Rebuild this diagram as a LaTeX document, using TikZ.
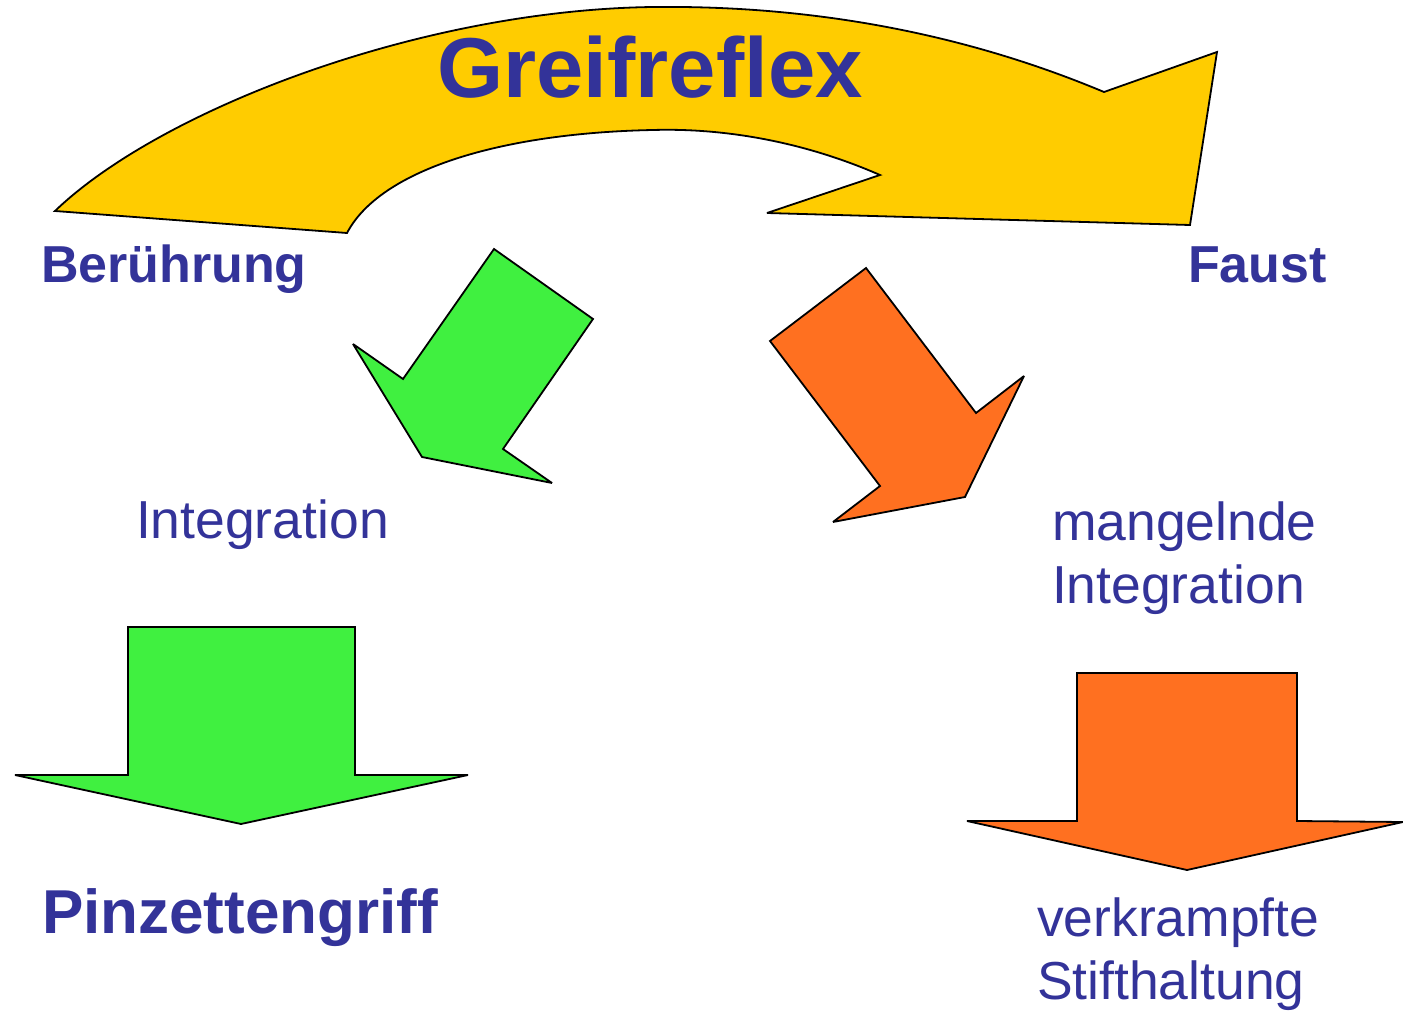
\documentclass[tikz,border=0pt]{standalone}
\usepackage{fontspec}
\setmainfont{Liberation Sans}
\definecolor{txtblue}{HTML}{333399}
\definecolor{gold}{HTML}{FFCC00}
\definecolor{lgreen}{HTML}{40F040}
\definecolor{lorange}{HTML}{FF7020}
\tikzset{
  shapeline/.style={draw=black,line width=1.8pt,line join=miter,miter limit=4},
  lbl/.style={text=txtblue,inner sep=0pt,outer sep=0pt},
  bigbold/.style={lbl,font=\fontsize{85}{100}\selectfont\bfseries},
  midbold/.style={lbl,font=\fontsize{52}{62}\selectfont\bfseries},
  hugebold/.style={lbl,font=\fontsize{62}{72}\selectfont\bfseries},
  plain/.style={lbl,font=\fontsize{53.5}{63}\selectfont,align=left},
}
\begin{document}
\begin{tikzpicture}[x=1pt,y=-1pt]
\useasboundingbox (0,0) rectangle (1403,1011);
% yellow curved arrow
\path[shapeline,fill=gold]
  (55,211) .. controls (160,110) and (420,10) .. (653,7)
  .. controls (830,5) and (980,40) .. (1104,92)
  -- (1217,52) -- (1190,225) -- (767,213) -- (880,175)
  .. controls (800,140) and (720,128) .. (653,130)
  .. controls (500,133) and (380,170) .. (347,233)
  -- cycle;
% green diagonal arrow
\path[shapeline,fill=lgreen]
  (494,249) -- (593,319) -- (503,449) -- (552,483) -- (422,457)
  -- (353,344) -- (403,379) -- cycle;
% orange diagonal arrow
\path[shapeline,fill=lorange]
  (866,268) -- (976,413) -- (1024,376) -- (965,497) -- (833,522)
  -- (880,486) -- (770,341) -- cycle;
% green down arrow
\path[shapeline,fill=lgreen]
  (128,627) -- (355,627) -- (355,775) -- (468,775) -- (241,824)
  -- (15,775) -- (128,775) -- cycle;
% orange down arrow
\path[shapeline,fill=lorange]
  (1077,673) -- (1297,673) -- (1297,821) -- (1403,822) -- (1187,870)
  -- (967,821) -- (1077,821) -- cycle;
% texts
\node[bigbold,anchor=base] (greif) at (650,98) {Greifreflex};
\node[midbold,anchor=base west] (ber) at (41,283) {Berührung};
\node[midbold,anchor=base west] (faust) at (1188,283) {Faust};
\node[plain,anchor=base west] (integ) at (136,538) {Integration};
\node[plain,anchor=base west] (mangel) at (1052,603) {mangelnde\\Integration};
\node[hugebold,anchor=base west] (pinz) at (42,933) {Pinzettengriff};
\node[plain,anchor=base west] (verk) at (1037,999) {verkrampfte\\Stifthaltung};
\end{tikzpicture}
\end{document}
